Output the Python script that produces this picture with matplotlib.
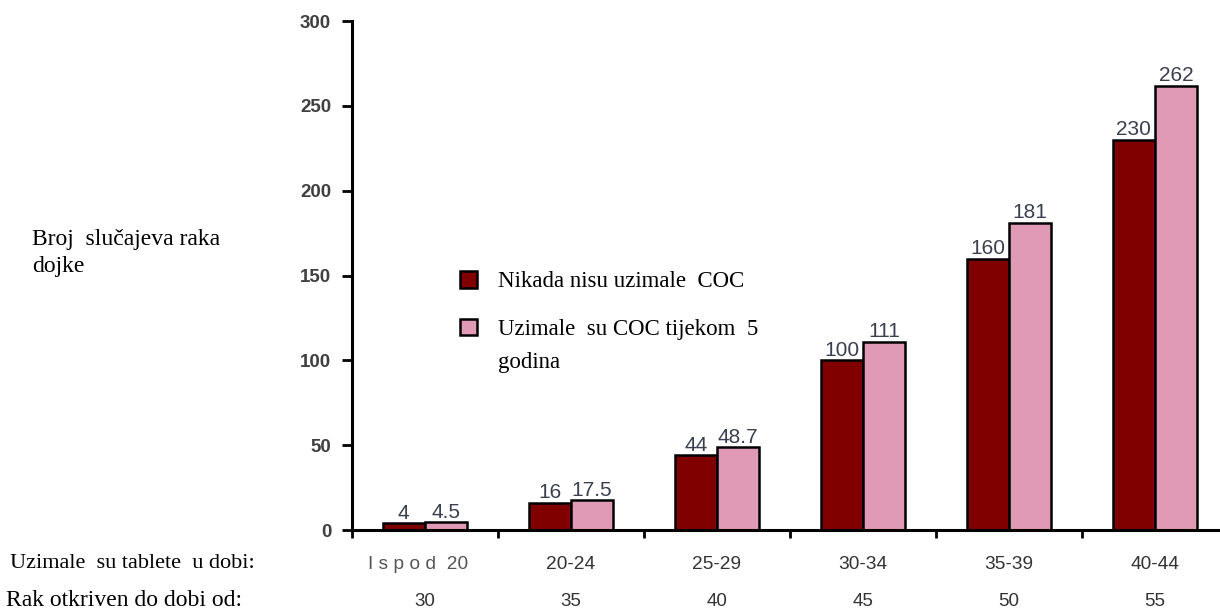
import matplotlib.pyplot as plt
import numpy as np

age_groups = ["I s p o d  20", "20-24", "25-29", "30-34", "35-39", "40-44"]
detected_by = ["30", "35", "40", "45", "50", "55"]
never_coc = [4, 16, 44, 100, 160, 230]
coc_5_years = [4.5, 17.5, 48.7, 111, 181, 262]
never_labels = ["4", "16", "44", "100", "160", "230"]
coc_labels = ["4.5", "17.5", "48.7", "111", "181", "262"]

dark = "#800000"
pink = "#e09ab5"
num_color = "#3a3f4f"

fig = plt.figure(figsize=(12.2, 6.1), dpi=100)
ax = fig.add_axes([0.2885, 0.131, 0.718, 0.8344])

x = np.arange(len(age_groups)) + 0.5
w = 0.29
b1 = ax.bar(x - w / 2, never_coc, w, color=dark, edgecolor="black", linewidth=1.8,
            label="Nikada nisu uzimale  COC")
b2 = ax.bar(x + w / 2, coc_5_years, w, color=pink, edgecolor="black", linewidth=1.8,
            label="Uzimale  su COC tijekom  5")

for rect, txt in zip(b1, never_labels):
    ax.text(rect.get_x() + rect.get_width() / 2, rect.get_height() + 0.3, txt,
            ha="center", va="bottom", fontsize=15, color=num_color, family="Liberation Sans")
for rect, txt in zip(b2, coc_labels):
    ax.text(rect.get_x() + rect.get_width() / 2, rect.get_height() + 0.3, txt,
            ha="center", va="bottom", fontsize=15, color=num_color, family="Liberation Sans")

ax.set_xlim(0, 6)
ax.set_ylim(0, 300)
ax.set_yticks(range(0, 301, 50))
ax.set_yticklabels([str(v) for v in range(0, 301, 50)], fontsize=13.5, fontweight="bold",
                   color="#404040", family="Liberation Sans")
ax.set_xticks(range(0, 7))
ax.set_xticklabels([])
ax.tick_params(axis="y", direction="out", length=7, width=2, pad=8)
ax.tick_params(axis="x", direction="out", length=6, width=2)
for s in ["top", "right"]:
    ax.spines[s].set_visible(False)
ax.spines["left"].set_linewidth(2.2)
ax.spines["bottom"].set_linewidth(2.2)

for i, (xi, lab) in enumerate(zip(x, age_groups)):
    ax.text(xi - (0.05 if i == 0 else 0), -20, lab, ha="center", va="center", fontsize=13.8,
            color="#555555" if i == 0 else "#333333", family="Liberation Sans")
for xi, lab in zip(x, detected_by):
    ax.text(xi, -42, lab, ha="center", va="center", fontsize=13.5, color="#333333",
            family="Liberation Sans")

fig.text(10 / 1220, 1 - 563 / 610, "Uzimale  su tablete  u dobi:", ha="left", va="center",
         fontsize=16, family="Liberation Serif")
fig.text(6 / 1220, 1 - 600 / 610, "Rak otkriven do dobi od:", ha="left", va="center",
         fontsize=17, family="Liberation Serif")
fig.text(32 / 1220, 1 - 253 / 610, "Broj  slučajeva raka\ndojke", ha="left", va="center",
         fontsize=17, family="Liberation Serif", linespacing=1.4)

leg = ax.legend(loc="upper left", bbox_to_anchor=(0.1, 0.55), frameon=False,
                prop={"family": "Liberation Serif", "size": 16.5}, handlelength=0.75,
                handleheight=0.75, handletextpad=0.9, labelspacing=1.15)
# continuation line of the second legend entry
ax.text(0.1667, 0.33, "godina", transform=ax.transAxes, ha="left", va="center",
        fontsize=16.5, family="Liberation Serif")

fig.savefig("out.png", dpi=100)
